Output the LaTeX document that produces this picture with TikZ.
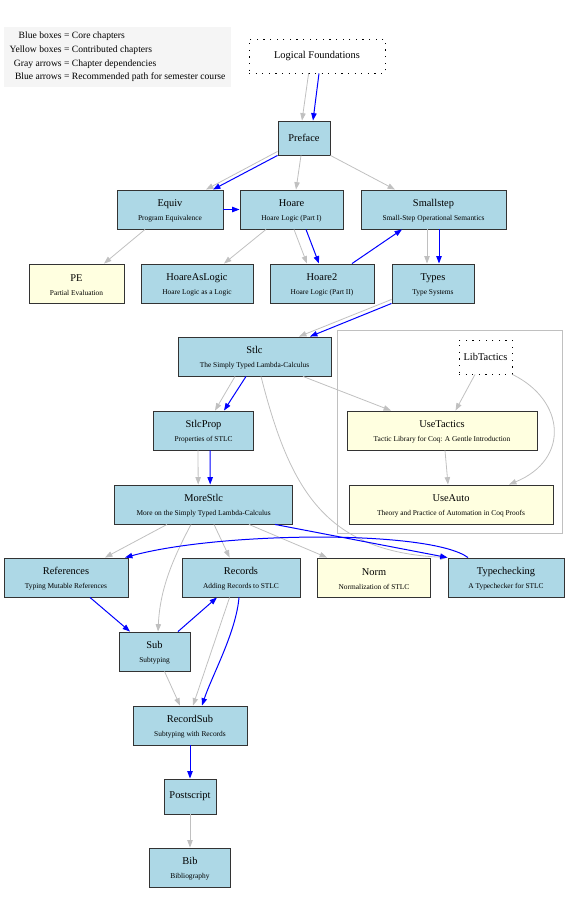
\documentclass[tikz,border=0pt]{standalone}
\usepackage{fontspec}
\setmainfont{Liberation Serif}
\usetikzlibrary{arrows.meta,fit}
\definecolor{coreblue}{HTML}{ADD8E6}
\definecolor{contribyellow}{HTML}{FFFFE0}
\definecolor{depgray}{HTML}{C0C0C0}
\definecolor{legendgray}{HTML}{F5F5F5}
\newcommand{\chap}[2]{\rule{0pt}{10pt}#1\\{\fontsize{7.4}{9}\selectfont #2}}

\begin{document}
\begin{tikzpicture}[->,>={Triangle[length=7.4pt,width=5.4pt]},x=1pt,y=-1pt]
\tikzstyle{core}=[rectangle, draw=black!80, line width=0.9pt, fill=coreblue, align=center, minimum height=39pt, inner sep=0pt, font=\fontsize{10.4}{14}\selectfont]
\tikzstyle{contrib}=[core, fill=contribyellow]
\tikzstyle{extern}=[core, fill=white, draw=black, dash pattern=on 1.2pt off 5.4pt, minimum height=34pt]
\tikzstyle{dep}=[draw=depgray, line width=0.8pt]
\tikzstyle{rec}=[draw=blue, line width=1pt]
\tikzstyle{cluster}=[rectangle, draw=depgray, line width=0.8pt, inner sep=9pt]
\tikzstyle{legend}=[rectangle, fill=legendgray, minimum width=227pt, minimum height=60pt, inner sep=0pt, font=\fontsize{9.6}{13.7}\selectfont]
\useasboundingbox (0,0) rectangle (576,913);
\node[legend] (Legend) at (117.5,56.5) {\begin{tabular}{@{}r@{\ =\ }l@{}}
  Blue boxes & Core chapters\\
  Yellow boxes & Contributed chapters\\
  Gray arrows & Chapter dependencies\\
  Blue arrows & Recommended path for semester course
\end{tabular}};
\node[extern, minimum width=136pt] (LF) at (317,56) {Logical Foundations};
\node[core, minimum width=52pt, minimum height=34pt] (Preface) at (304,138) {Preface};
\node[core, minimum width=106pt] (Equiv) at (170,209.5) {\chap{Equiv}{Program Equivalence}};
\node[core, minimum width=103pt] (Hoare) at (291.5,209.5) {\chap{Hoare}{Hoare Logic (Part I)}};
\node[core, minimum width=145pt] (Smallstep) at (433.5,209.5) {\chap{Smallstep}{Small-Step Operational Semantics}};
\node[contrib, minimum width=95pt] (PE) at (76.5,283.5) {\chap{PE}{Partial Evaluation}};
\node[core, minimum width=112pt] (HoareAsLogic) at (197,283.5) {\chap{HoareAsLogic}{Hoare Logic as a Logic}};
\node[core, minimum width=104pt] (Hoare2) at (322,283.5) {\chap{Hoare2}{Hoare Logic (Part II)}};
\node[core, minimum width=82pt] (Types) at (433,283.5) {\chap{Types}{Type Systems}};
\node[core, minimum width=153pt] (Stlc) at (254.5,356.5) {\chap{Stlc}{The Simply Typed Lambda-Calculus}};
\node[extern, minimum width=53pt] (LibTactics) at (485.5,357) {LibTactics};
\node[core, minimum width=100pt] (StlcProp) at (203.5,430.5) {\chap{StlcProp}{Properties of STLC}};
\node[contrib, minimum width=190pt] (UseTactics) at (442,430.5) {\chap{UseTactics}{Tactic Library for Coq: A Gentle Introduction}};
\node[core, minimum width=178pt] (MoreStlc) at (203.7,504.5) {\chap{MoreStlc}{More on the Simply Typed Lambda-Calculus}};
\node[contrib, minimum width=204pt] (UseAuto) at (451,504.5) {\chap{UseAuto}{Theory and Practice of Automation in Coq Proofs}};
\node[core, minimum width=124pt] (References) at (66,577.5) {\chap{References}{Typing Mutable References}};
\node[core, minimum width=118pt] (Records) at (241,577.5) {\chap{Records}{Adding Records to STLC}};
\node[contrib, minimum width=113pt] (Norm) at (374,577.5) {\chap{Norm}{Normalization of STLC}};
\node[core, minimum width=116pt] (Typechecking) at (506,577.5) {\chap{Typechecking}{A Typechecker for STLC}};
\node[core, minimum width=71pt] (Sub) at (154.5,651.5) {\chap{Sub}{Subtyping}};
\node[core, minimum width=114pt] (RecordSub) at (190,725.5) {\chap{RecordSub}{Subtyping with Records}};
\node[core, minimum width=52pt, minimum height=35pt] (Postscript) at (190,796.5) {Postscript};
\node[core, minimum width=81pt] (Bib) at (190,867.5) {\chap{Bib}{Bibliography}};
\node[cluster, fit=(LibTactics)(UseTactics)(UseAuto)] (Tactics) {};
% gray arrows: chapter dependencies
\path ([xshift=-8.4pt]LF.south) edge[dep] ([xshift=-2pt]Preface.north)
      ([yshift=4pt]Preface.south west) edge[dep] ([xshift=36pt]Equiv.north)
      ([xshift=-3pt]Preface.south) edge[dep] ([xshift=4.5pt]Hoare.north)
      (Preface.south east) edge[dep] ([xshift=-38.5pt]Smallstep.north)
      ([xshift=-25pt]Equiv.south) edge[dep] ([xshift=27.5pt]PE.north)
      ([xshift=-25.5pt]Hoare.south) edge[dep] ([xshift=27pt]HoareAsLogic.north)
      ([xshift=2.5pt]Hoare.south) edge[dep] ([xshift=-15pt]Hoare2.north)
      ([xshift=-6.5pt]Smallstep.south) edge[dep] ([xshift=-6pt]Types.north)
      ([yshift=4pt]Types.south west) edge[dep] ([xshift=44.5pt]Stlc.north)
      ([xshift=-19.5pt]Stlc.south) edge[dep] ([xshift=11.5pt]StlcProp.north)
      ([xshift=48.5pt]Stlc.south) edge[dep] ([xshift=-51pt]UseTactics.north)
      ([xshift=-10.5pt]LibTactics.south) edge[dep] ([xshift=13.5pt]UseTactics.north)
      ([xshift=3pt]UseTactics.south) edge[dep] ([xshift=-3pt]UseAuto.north)
      ([xshift=-5.5pt]StlcProp.south) edge[dep] ([xshift=-5.5pt]MoreStlc.north)
      ([xshift=-36.7pt]MoreStlc.south) edge[dep] ([xshift=39pt]References.north)
      ([xshift=10.3pt]MoreStlc.south) edge[dep] ([xshift=-11.4pt]Records.north)
      ([xshift=45.3pt]MoreStlc.south) edge[dep] ([xshift=-47pt]Norm.north)
      ([xshift=10pt]Sub.south) edge[dep] ([xshift=-10pt]RecordSub.north)
      ([xshift=-11.4pt]Records.south) edge[dep] ([xshift=3pt]RecordSub.north)
      (Postscript) edge[dep] (Bib);
\draw[dep] ([xshift=6.5pt]Stlc.south) .. controls +(29,114) and +(-122,-6) .. (Typechecking.north west);
\draw[dep] (LibTactics.south east) .. controls +(53,26) and +(61,-25) .. ([xshift=58pt]UseAuto.north);
\draw[dep] ([xshift=-12.7pt]MoreStlc.south) .. controls +(-19,36) and +(2,-42) .. ([xshift=3.5pt]Sub.north);
% blue arrows: recommended path
\path ([xshift=2pt]LF.south) edge[rec] ([xshift=9pt]Preface.north)
      (Preface.south west) edge[rec] ([xshift=43pt]Equiv.north)
      (Equiv.east) edge[rec] (Hoare.west)
      ([xshift=14.5pt]Hoare.south) edge[rec] ([xshift=-3pt]Hoare2.north)
      ([xshift=30pt]Hoare2.north) edge[rec] ([xshift=-31.5pt]Smallstep.south)
      ([xshift=5.5pt]Smallstep.south) edge[rec] ([xshift=6pt]Types.north)
      (Types.south west) edge[rec] ([xshift=55.5pt]Stlc.north)
      ([xshift=-8.5pt]Stlc.south) edge[rec] ([xshift=20.5pt]StlcProp.north)
      ([xshift=6.5pt]StlcProp.south) edge[rec] ([xshift=6.5pt]MoreStlc.north)
      ([xshift=71.3pt]MoreStlc.south) edge[rec] (Typechecking.north west)
      ([xshift=24pt]References.south) edge[rec] ([xshift=-24.5pt]Sub.north)
      ([xshift=23.5pt]Sub.north) edge[rec] ([xshift=-24pt]Records.south)
      (RecordSub) edge[rec] (Postscript);
\draw[rec] ([xshift=-38pt]Typechecking.north) .. controls +(-38,-28) and +(95,-26) .. ([xshift=59pt]References.north);
\draw[rec] ([xshift=-2pt]Records.south) .. controls +(-3,35) and +(10,-30) .. ([xshift=12pt]RecordSub.north);
\end{tikzpicture}
\end{document}
